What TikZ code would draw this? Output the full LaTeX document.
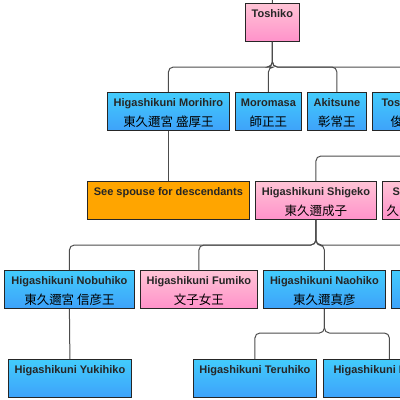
\documentclass[tikz,border=0pt]{standalone}
\usepackage{fontspec}
\setmainfont{Liberation Sans}
\newfontfamily\cjk{Noto Sans CJK JP}
\usepackage{tikz}
\usetikzlibrary{calc}

\definecolor{blueTop}{RGB}{66,204,252}
\definecolor{blueBot}{RGB}{62,162,250}
\definecolor{pinkTop}{RGB}{255,196,214}
\definecolor{pinkBot}{RGB}{255,146,202}
\definecolor{noteFill}{RGB}{255,165,0}

\begin{document}
\begin{tikzpicture}[x=1pt, y=-1pt,
  box/.style={draw=black!85, line width=0.8pt, inner sep=0pt, minimum height=38pt, anchor=north west},
  male/.style={box, top color=blueTop, bottom color=blueBot},
  female/.style={box, top color=pinkTop, bottom color=pinkBot},
  note/.style={box, fill=noteFill},
  en/.style={anchor=base, font=\fontsize{11}{13}\selectfont\bfseries, text=black!85},
  ja/.style={anchor=base, font=\fontsize{12.5}{14}\selectfont\cjk},
  link/.style={draw=black!70, line width=1pt, rounded corners=5pt}]
\useasboundingbox (0,0) rectangle (400,400);
\clip (0,0) rectangle (400,400);

% bus lines
\coordinate (top) at (272,-10);
\coordinate (bus1) at (272,67);
\coordinate (bus1end) at (430,67);
\coordinate (shigup) at (430,156);
\coordinate (bus2) at (316,245);
\coordinate (bus2end) at (430,245);
\coordinate (bus3) at (324,333);

% generation 0
\node[female, minimum width=54pt] (toshiko) at (245,3) {};
\node[en] (toshiko-en) at ($(toshiko.north)+(0,14)$) {Toshiko};

% generation 1
\node[male, minimum width=122pt] (morihiro) at (107,92) {};
\node[en] (morihiro-en) at ($(morihiro.north)+(0,14)$) {Higashikuni Morihiro};
\node[ja] (morihiro-ja) at ($(morihiro.north)+(0,34)$) {東久邇宮 盛厚王};
\node[male, minimum width=66pt] (moromasa) at (235,92) {};
\node[en] (moromasa-en) at ($(moromasa.north)+(0,14)$) {Moromasa};
\node[ja] (moromasa-ja) at ($(moromasa.north)+(0,34)$) {師正王};
\node[male, minimum width=59pt] (akitsune) at (307,92) {};
\node[en] (akitsune-en) at ($(akitsune.north)+(0,14)$) {Akitsune};
\node[ja] (akitsune-ja) at ($(akitsune.north)+(0,34)$) {彰常王};
\node[male, minimum width=80pt] (toshi) at (372,92) {};
\node[en, anchor=base west] (toshi-en) at (378,106) {Tosh};
\node[ja, anchor=base west] (toshi-ja) at (387,126) {俊};

% spouses
\node[note, minimum width=162pt] (spouse) at (87,181) {};
\node[en] (spouse-en) at ($(spouse.north)+(0,14)$) {See spouse for descendants};
\node[female, minimum width=121pt] (shigeko) at (255,181) {};
\node[en] (shigeko-en) at ($(shigeko.north)+(0,14)$) {Higashikuni Shigeko};
\node[ja] (shigeko-ja) at ($(shigeko.north)+(0,34)$) {東久邇成子};
\node[female, minimum width=80pt] (sa) at (382,181) {};
\node[en, anchor=base west] (sa-en) at (389,195) {Sa};
\node[ja, anchor=base west] (sa-ja) at (383,215) {久宮};

% generation 2
\node[male, minimum width=130pt] (nobuhiko) at (4,270) {};
\node[en] (nobuhiko-en) at ($(nobuhiko.north)+(0,14)$) {Higashikuni Nobuhiko};
\node[ja] (nobuhiko-ja) at ($(nobuhiko.north)+(0,34)$) {東久邇宮 信彦王};
\node[female, minimum width=117pt] (fumiko) at (140,270) {};
\node[en] (fumiko-en) at ($(fumiko.north)+(0,14)$) {Higashikuni Fumiko};
\node[ja] (fumiko-ja) at ($(fumiko.north)+(0,34)$) {文子女王};
\node[male, minimum width=122pt] (naohiko) at (263,270) {};
\node[en] (naohiko-en) at ($(naohiko.north)+(0,14)$) {Higashikuni Naohiko};
\node[ja] (naohiko-ja) at ($(naohiko.north)+(0,34)$) {東久邇真彦};
\node[male, minimum width=80pt] (hnext) at (391,270) {};
\node[en, anchor=base west] (hnext-en) at (397,284) {H};

% generation 3
\node[male, minimum width=123pt] (yukihiko) at (8,359) {};
\node[en] (yukihiko-en) at ($(yukihiko.north)+(0,14)$) {Higashikuni Yukihiko};
\node[male, minimum width=123pt] (teruhiko) at (193,359) {};
\node[en] (teruhiko-en) at ($(teruhiko.north)+(0,14)$) {Higashikuni Teruhiko};
\node[male, minimum width=132pt] (mnext) at (323,359) {};
\node[en, anchor=base west] (mnext-en) at (330,373) {Higashikuni M};

% connectors
\draw[link] (top) -- (toshiko.north);
\draw[link] (toshiko.south) |- (bus1 -| morihiro.north) -- (morihiro.north);
\draw[link] (toshiko.south) |- (bus1 -| moromasa.north) -- (moromasa.north);
\draw[link] (toshiko.south) |- (bus1 -| akitsune.north) -- (akitsune.north);
\draw[link] (toshiko.south) |- (bus1end);
\draw[link] (morihiro.south) -- (spouse.north);
\draw[link] (shigup) -| (shigeko.north);
\draw[link] (shigeko.south) |- (bus2 -| nobuhiko.north) -- (nobuhiko.north);
\draw[link] (shigeko.south) |- (bus2 -| fumiko.north) -- (fumiko.north);
\draw[link] (shigeko.south) |- (bus2 -| naohiko.north) -- (naohiko.north);
\draw[link] (shigeko.south) |- (bus2end);
\draw[link] (nobuhiko.south) -- (yukihiko.north);
\draw[link] (naohiko.south) |- (bus3 -| teruhiko.north) -- (teruhiko.north);
\draw[link] (naohiko.south) |- (bus3 -| mnext.north) -- (mnext.north);
\end{tikzpicture}
\end{document}
